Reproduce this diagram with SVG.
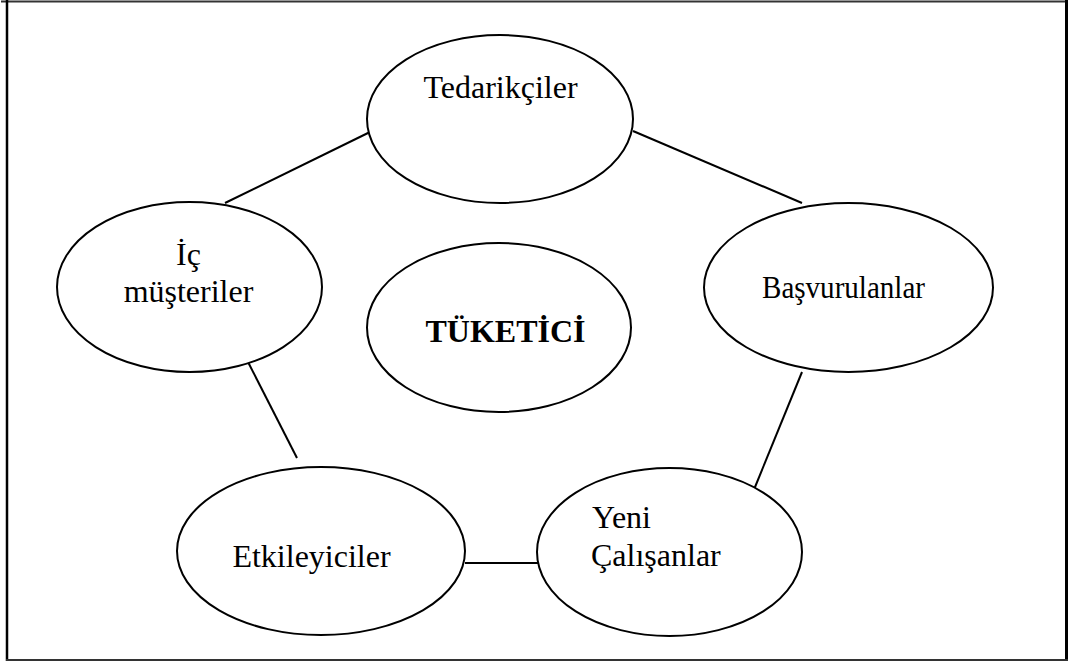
<svg xmlns="http://www.w3.org/2000/svg" width="1070" height="664" viewBox="0 0 1070 664">
<style>
.node ellipse{fill:#fff;stroke:#000;stroke-width:2}
.lbl{font-family:"Liberation Serif","Times New Roman",serif;font-size:32px;fill:#000}
.mid{text-anchor:middle}
.bold{font-weight:bold}
#connectors line{stroke:#000;stroke-width:2}
</style>
<rect x="0" y="0" width="1070" height="664" fill="#fff"/>
<g id="frame">
<line x1="1" y1="1.5" x2="1068" y2="1.5" stroke="#333" stroke-width="2"/>
<line x1="7" y1="0" x2="7" y2="661" stroke="#000" stroke-width="2.5"/>
<line x1="1066.5" y1="0" x2="1066.5" y2="661" stroke="#000" stroke-width="3"/>
<line x1="6" y1="660" x2="1068" y2="660" stroke="#333" stroke-width="2"/>
</g>
<g id="connectors">
<line x1="225" y1="203" x2="370" y2="132"/>
<line x1="633" y1="131" x2="802" y2="203"/>
<line x1="248" y1="362" x2="297" y2="458"/>
<line x1="802" y1="372" x2="753" y2="492"/>
<line x1="465" y1="563" x2="538" y2="563"/>
</g>
<g id="tedarikciler" class="node">
<ellipse cx="500" cy="119" rx="133" ry="84"/>
<text class="lbl mid" x="500.5" y="98">Tedarikçiler</text>
</g>
<g id="ic-musteriler" class="node">
<ellipse cx="189.5" cy="287" rx="132.5" ry="85"/>
<text class="lbl mid" x="188.5" y="265">İç</text>
<text class="lbl mid" x="188.5" y="302">müşteriler</text>
</g>
<g id="basvurulanlar" class="node">
<ellipse cx="848.5" cy="287.5" rx="144.5" ry="84.5"/>
<text class="lbl mid" x="843.5" y="298" textLength="163" lengthAdjust="spacingAndGlyphs">Başvurulanlar</text>
</g>
<g id="tuketici" class="node">
<ellipse cx="499" cy="327.5" rx="132" ry="84.5"/>
<text class="lbl mid bold" x="505.5" y="342">TÜKETİCİ</text>
</g>
<g id="etkileyiciler" class="node">
<ellipse cx="321" cy="551" rx="144" ry="84"/>
<text class="lbl mid" x="311.5" y="567">Etkileyiciler</text>
</g>
<g id="yeni-calisanlar" class="node">
<ellipse cx="669.5" cy="552" rx="132.5" ry="84"/>
<text class="lbl" x="592" y="528">Yeni</text>
<text class="lbl" x="591" y="566">Çalışanlar</text>
</g>
</svg>
